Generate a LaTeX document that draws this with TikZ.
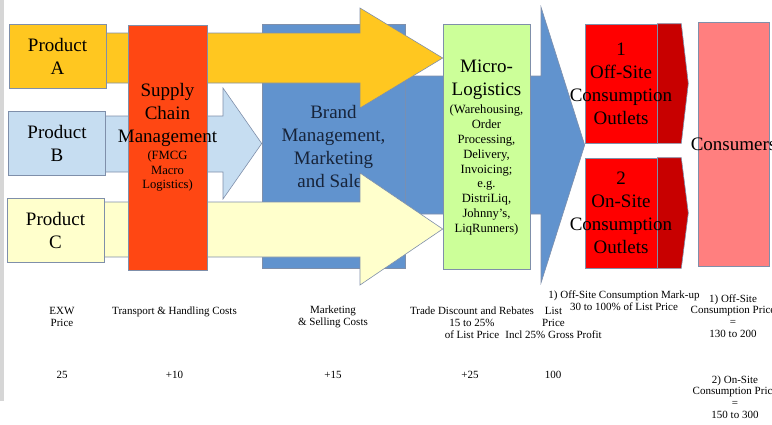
\documentclass[tikz,border=0pt]{standalone}
\usepackage{fontspec}
\setmainfont{Liberation Serif}
\usetikzlibrary{backgrounds}
\definecolor{edgegrey}{HTML}{7F8FAA}
\definecolor{prodA}{HTML}{FFC720}
\definecolor{prodB}{HTML}{C6DDF1}
\definecolor{prodC}{HTML}{FFFFCC}
\definecolor{scmred}{HTML}{FF4713}
\definecolor{brandblue}{HTML}{6193CE}
\definecolor{brandtxt}{HTML}{17243A}
\definecolor{microgreen}{HTML}{CCFF99}
\definecolor{outletred}{HTML}{FF0000}
\definecolor{outletdark}{HTML}{C80000}
\definecolor{consred}{HTML}{FF7F7F}
\definecolor{sidebar}{HTML}{D6D6D6}

\begin{document}
\begin{tikzpicture}[x=1pt,y=-1pt,
    blk/.style={draw=edgegrey,line width=0.6pt,inner sep=0pt},
    big/.style={align=center,inner sep=0pt,font=\fontsize{19}{23}\selectfont},
    note/.style={align=center,inner sep=0pt,font=\fontsize{12.6}{14.8}\selectfont},
    cost/.style={align=center,inner sep=0pt,font=\fontsize{11}{11.8}\selectfont},
    blkarrow/.style={draw=edgegrey,line width=0.6pt,line join=miter}]
    \useasboundingbox (0,0) rectangle (772,424);
    \fill[sidebar] (0,0) rectangle (3.5,401);

    % product boxes
    \begin{scope}[every node/.append style={blk,big,minimum height=64pt,minimum width=97pt}]
        \node[fill=prodA] (A) at (57.5,56) {Product\\A};
        \node[fill=prodB] (B) at (57,143) {Product\\B};
        \node[fill=prodC] (C) at (55.5,230.5) {Product\\C};
    \end{scope}

    % tall boxes
    \node[blk,fill=scmred,minimum width=79pt,minimum height=245pt] (scm) at (167.5,147.5) {};
    \node[blk,fill=microgreen,minimum width=87pt,minimum height=245pt] (micro) at (486.5,146.5) {};
    \node[blk,fill=outletred,minimum width=72pt,minimum height=119pt] (off) at (621,83.5) {};
    \node[blk,fill=outletred,minimum width=72pt,minimum height=110pt] (on) at (621,213) {};
    \node[blk,fill=consred,minimum width=71pt,minimum height=244pt] (cons) at (733.5,144) {};

    \node[big] (scmtitle) at (167.5,115) {Supply\\Chain\\Management};
    \node[note] (scmnote) at (167.5,171) {(FMCG\\Macro\\Logistics)};
    \node[big] (microtitle) at (486.5,80) {Micro-\\Logistics};
    \node[note] (micronote) at (486.5,170) {(Warehousing,\\Order\\Processing,\\Delivery,\\Invoicing;\\e.g.\\DistriLiq,\\Johnny's,\\LiqRunners)};
    \node[big] (offtxt) at (off.center) {1\\Off-Site\\Consumption\\Outlets};
    \node[big] (ontxt) at (on.center) {2\\On-Site\\Consumption\\Outlets};
    \node[big] (constxt) at (cons.center) {Consumers};

    \begin{pgfonlayer}{background}
        \node[blk,big,fill=brandblue,text=brandtxt,minimum width=143pt,minimum height=244pt] (brand) at (333.5,146) {Brand\\Management,\\Marketing\\and Sales};
        \draw[blkarrow,fill=brandblue] (brand.east |- 0,76) -- (541,76) -- (541,7) -- (off.west |- 0,145)
            -- (541,283) -- (541,214) -- (brand.east |- 0,214) -- cycle;
        \draw[blkarrow,fill=prodB] (B.center |- 0,116) -- (223,116) -- (223,88) -- (brand.west |- 0,143.5)
            -- (223,199) -- (223,172) -- (B.center |- 0,172) -- cycle;
        \draw[blkarrow,fill=prodA] (A.center |- 0,33) -- (360,33) -- (360,8) -- (micro.west |- 0,58)
            -- (360,108) -- (360,83) -- (A.center |- 0,83) -- cycle;
        \draw[blkarrow,fill=prodC] (C.center |- 0,202) -- (360,202) -- (360,173) -- (micro.west |- 0,229)
            -- (360,285) -- (360,257) -- (C.center |- 0,257) -- cycle;
        \draw[blkarrow,fill=outletdark] (off.north east) -- ++(24,0) -- ([xshift=31pt]off.east)
            -- ([xshift=24pt]off.south east) -- (off.south east) -- cycle;
        \draw[blkarrow,fill=outletdark] (on.north east) -- ++(24,0) -- ([xshift=31pt]on.east)
            -- ([xshift=24pt]on.south east) -- (on.south east) -- cycle;
    \end{pgfonlayer}

    % costs along the chain
    \node[cost] (exw) at (62,317) {EXW\\Price};
    \node[cost] (transport) at (174.5,312) {Transport \& Handling Costs};
    \node[cost] (marketing) at (333,317) {Marketing\\\& Selling Costs};
    \node[cost] (trade) at (472,323) {Trade Discount and Rebates\\15 to 25\%\\of List Price};
    \node[cost] (list) at (553.5,323) {List\\Price\\Incl 25\% Gross Profit};
    \node[cost] (markup) at (624,300.5) {1) Off-Site Consumption Mark-up\\30 to 100\% of List Price};
    \node[cost] (offprice) at (733,316) {1) Off-Site\\Consumption Price\\=\\130 to 200};
    \node[cost] (v25) at (62,375) {25};
    \node[cost] (v10) at (174.5,375) {+10};
    \node[cost] (v15) at (333,375) {+15};
    \node[cost] (v25b) at (470,375) {+25};
    \node[cost] (v100) at (553,375) {100};
    \node[cost] (onprice) at (735,397) {2) On-Site\\Consumption Price\\=\\150 to 300};
\end{tikzpicture}
\end{document}
